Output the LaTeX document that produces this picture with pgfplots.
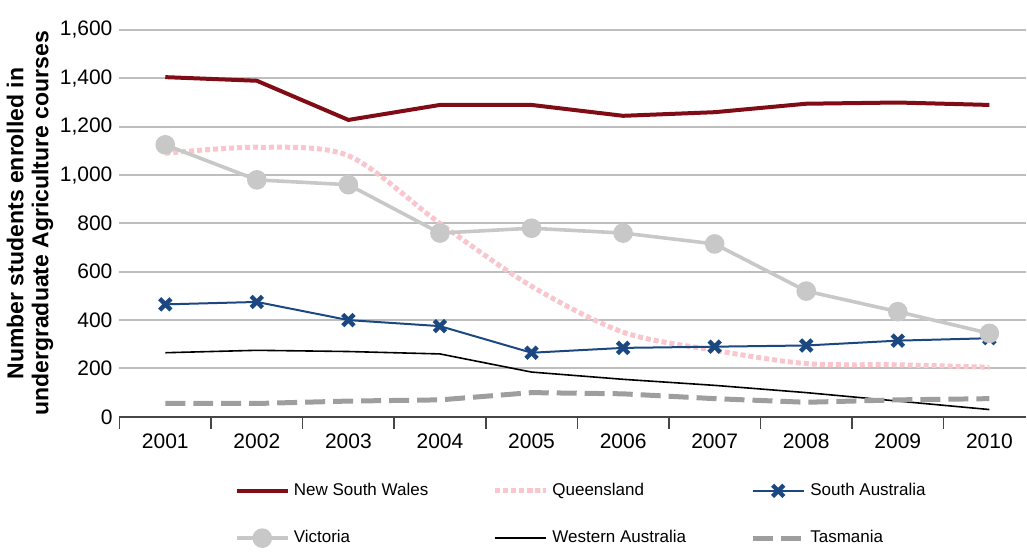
\documentclass[border=0pt]{standalone}
\usepackage{fontspec}
\setmainfont{Liberation Sans}
\usepackage{pgfplots}
\pgfplotsset{compat=1.18}
\definecolor{nswred}{RGB}{128,12,22}
\definecolor{qldpink}{RGB}{248,198,204}
\definecolor{sablue}{RGB}{28,72,130}
\definecolor{vicgray}{RGB}{200,200,200}
\definecolor{tasgray}{RGB}{158,158,158}
\definecolor{gridgray}{RGB}{190,190,190}
\definecolor{axisgray}{RGB}{70,70,70}

\begin{document}
\begin{tikzpicture}
\begin{axis}[
    scale only axis,
    width=453.5pt, height=193.5pt,
    xmin=-0.5, xmax=9.4, ymin=0, ymax=1600,
    axis x line*=bottom, axis y line*=left,
    y axis line style={draw=none},
    x axis line style={draw=axisgray, line width=1pt},
    xtick={0,...,9},
    xticklabels={2001,2002,2003,2004,2005,2006,2007,2008,2009,2010},
    minor xtick={-0.5,0.5,...,8.5},
    major tick length=0pt, minor tick length=6pt, tick align=outside,
    minor tick style={draw=axisgray, line width=0.8pt},
    ytick={0,200,...,1600},
    ymajorgrids,
    grid style={draw=gridgray, line width=1pt},
    tick label style={font=\fontsize{10.5}{12}\selectfont},
    xticklabel style={yshift=-5pt},
    yticklabel style={/pgf/number format/1000 sep={,}, /pgf/number format/assume math mode=true},
    ylabel={Number students enrolled in\\undergraduate Agriculture courses},
    ylabel style={align=center, yshift=-3.5pt, font=\bfseries\fontsize{11.5}{12.5}\selectfont},
    legend columns=3,
    legend cell align=left,
    legend style={at={(0.12,-0.15)}, anchor=north west, draw=none, fill=none,
        font=\fontsize{8.5}{10}\selectfont,
        /tikz/every even column/.append style={column sep=30pt},
        row sep=12pt},
    legend image code/.code={\draw[mark repeat=2,mark phase=2,#1] plot coordinates {(0cm,0cm) (0.45cm,0cm) (0.9cm,0cm)};},
]
\coordinate (topleft) at (rel axis cs:0,1);
\addplot[color=nswred, line width=2pt] coordinates {
    (0,1405) (1,1390) (2,1228) (3,1290) (4,1290) (5,1245) (6,1260) (7,1295) (8,1300) (9,1290)
};
\addlegendentry{New South Wales}
\addplot[color=qldpink, line width=2.5pt, dash pattern=on 2.5pt off 1.5pt, smooth] coordinates {
    (0,1090) (1,1115) (2,1080) (3,800) (4,540) (5,350) (6,275) (7,220) (8,215) (9,205)
};
\addlegendentry{Queensland}
\addplot[color=sablue, line width=1pt, mark=x, mark size=4pt, mark options={line width=2.2pt, solid}] coordinates {
    (0,465) (1,475) (2,400) (3,375) (4,265) (5,285) (6,290) (7,295) (8,315) (9,325)
};
\addlegendentry{South Australia}
\addplot[color=vicgray, line width=1.8pt, mark=*, mark size=4pt] coordinates {
    (0,1125) (1,980) (2,960) (3,760) (4,780) (5,760) (6,715) (7,520) (8,435) (9,345)
};
\addlegendentry{Victoria}
\addplot[color=black, line width=0.8pt] coordinates {
    (0,265) (1,275) (2,270) (3,260) (4,185) (5,155) (6,130) (7,100) (8,65) (9,30)
};
\addlegendentry{Western Australia}
\addplot[color=tasgray, line width=2.5pt, dash pattern=on 10pt off 4pt] coordinates {
    (0,55) (1,55) (2,65) (3,70) (4,100) (5,95) (6,75) (7,60) (8,70) (9,75)
};
\addlegendentry{Tasmania}
\end{axis}
\path (topleft) ++(0,15pt);
\end{tikzpicture}
\end{document}
